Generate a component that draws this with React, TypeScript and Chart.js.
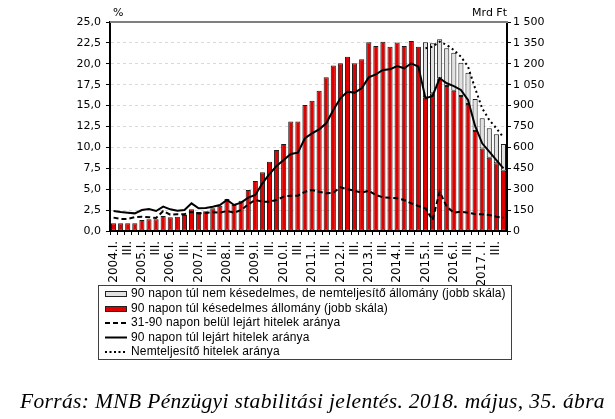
import React, { useEffect, useRef } from "react";
import { Chart, registerables } from "chart.js";

Chart.register(...registerables);

const categories = [
  "2004.I.", "II.", "III.", "IV.",
  "2005.I.", "II.", "III.", "IV.",
  "2006.I.", "II.", "III.", "IV.",
  "2007.I.", "II.", "III.", "IV.",
  "2008.I.", "II.", "III.", "IV.",
  "2009.I.", "II.", "III.", "IV.",
  "2010.I.", "II.", "III.", "IV.",
  "2011.I.", "II.", "III.", "IV.",
  "2012.I.", "II.", "III.", "IV.",
  "2013.I.", "II.", "III.", "IV.",
  "2014.I.", "II.", "III.", "IV.",
  "2015.I.", "II.", "III.", "IV.",
  "2016.I.", "II.", "III.", "IV.",
  "2017. I.", "II.", "III.", "IV.",
];

// 90 napon túl késedelmes állomány (Mrd Ft, jobb skála)
const lateStock = [
  55, 55, 55, 55, 79, 84, 84, 108, 98, 103,
  115, 156, 136, 141, 163, 182, 230, 187, 218, 294,
  359, 421, 497, 581, 624, 785, 785, 904, 935, 1007,
  1103, 1187, 1204, 1251, 1204, 1232, 1354, 1328, 1359, 1323,
  1352, 1328, 1364, 1323, 960, 988, 1096, 1041, 1007, 969,
  912, 718, 593, 526, 486, 433,
];

// 90 napon túl nem késedelmes, de nemteljesítő állomány (Mrd Ft, jobb skála)
const nonLateNpl = [
  null, null, null, null, null, null, null, null, null, null,
  null, null, null, null, null, null, null, null, null, null,
  null, null, null, null, null, null, null, null, null, null,
  null, null, null, null, null, null, null, null, null, null,
  null, null, null, null, 394, 359, 280, 270, 273, 239,
  224, 230, 216, 211, 208, 191,
];

// 31-90 napon belül lejárt hitelek aránya (%)
const ratio31to90 = [
  1.6, 1.45, 1.45, 1.65, 1.7, 1.65, 1.55, 2.4, 1.95, 2.0,
  2.0, 2.3, 2.1, 2.15, 2.25, 2.19, 2.39, 2.19, 2.51, 3.19,
  3.71, 3.51, 3.51, 3.71, 4.11, 4.23, 4.23, 4.7, 4.9, 4.7,
  4.51, 4.58, 5.23, 4.99, 4.82, 4.58, 4.82, 4.31, 4.03, 3.99,
  3.91, 3.71, 3.31, 2.99, 2.71, 1.32, 4.7, 2.91, 2.19, 2.31,
  2.19, 2.03, 2.0, 1.91, 1.71, 1.59,
];

// 90 napon túl lejárt hitelek aránya (%)
const ratioOver90 = [
  2.39, 2.27, 2.19, 2.11, 2.51, 2.63, 2.39, 2.91, 2.59, 2.43,
  2.51, 3.31, 2.71, 2.75, 2.91, 3.11, 3.71, 3.11, 3.39, 3.99,
  4.31, 5.7, 6.82, 7.78, 8.49, 9.21, 9.37, 11.09, 11.68, 12.16,
  12.88, 14.47, 15.87, 16.67, 16.55, 17.07, 18.38, 18.74, 19.26, 19.34,
  19.74, 19.46, 20.06, 19.66, 15.87, 16.15, 18.27, 17.67, 17.34, 16.87,
  15.67, 12.56, 10.49, 9.49, 8.49, 7.5,
];

// Nemteljesítő hitelek aránya (%)
const nplRatio = [
  null, null, null, null, null, null, null, null, null, null,
  null, null, null, null, null, null, null, null, null, null,
  null, null, null, null, null, null, null, null, null, null,
  null, null, null, null, null, null, null, null, null, null,
  null, null, null, null, 21.85, 22.05, 22.65, 22.25, 21.65, 20.85,
  19.66, 17.07, 14.67, 13.28, 12.28, 11.2,
];

const legendLabels = [
  "90 napon túl nem késedelmes, de nemteljesítő állomány (jobb skála)",
  "90 napon túl késedelmes állomány (jobb skála)",
  "31-90 napon belül lejárt hitelek aránya",
  "90 napon túl lejárt hitelek aránya",
  "Nemteljesítő hitelek aránya",
];

const leftUnit = "%";
const rightUnit = "Mrd Ft";
const sourceText = "Forrás: MNB Pénzügyi stabilitási jelentés. 2018. május, 35. ábra";

const leftMax = 25;
const leftStep = 2.5;
const rightMax = 1500;
const rightStep = 150;

const RED = "#E00000";
const GRAY = "#E2E2E2";
const TICK_FONT = { family: "'DejaVu Sans', sans-serif", size: 11 };
const XTICK_FONT = { family: "'DejaVu Sans', sans-serif", size: 12 };

function fmtRight(v: number): string {
  if (v >= 1000) {
    const th = Math.floor(v / 1000);
    const rest = String(v % 1000).padStart(3, "0");
    return th + " " + rest;
  }
  return String(v);
}

const decorPlugin = {
  id: "decor",
  afterDraw(chart: any) {
    const { ctx, chartArea } = chart;
    const { left, right, top } = chartArea;
    ctx.save();
    // top frame line
    ctx.strokeStyle = "#7F7F7F";
    ctx.lineWidth = 2;
    ctx.setLineDash([]);
    ctx.beginPath();
    ctx.moveTo(left, top);
    ctx.lineTo(right + 1, top);
    ctx.stroke();

    // unit labels
    ctx.fillStyle = "#000";
    ctx.font = "11px 'DejaVu Sans', sans-serif";
    ctx.textBaseline = "middle";
    ctx.textAlign = "left";
    ctx.fillText(leftUnit, left + 3, 13);
    ctx.textAlign = "right";
    ctx.fillText(rightUnit, right, 13);

    // legend box
    const bx = 98.5, by = 285.5, bw = 413, bh = 74;
    ctx.strokeStyle = "#404040";
    ctx.lineWidth = 1;
    ctx.strokeRect(bx, by, bw, bh);
    const rows = [294, 308.5, 323, 337.5, 352];
    const sx = 105, sw = 22;
    ctx.font = "12px 'Liberation Sans', Arial, sans-serif";
    try { (ctx as any).letterSpacing = "0.15px"; } catch (e) {}
    ctx.textAlign = "left";
    ctx.textBaseline = "middle";
    rows.forEach((y, i) => {
      ctx.save();
      if (i === 0 || i === 1) {
        ctx.fillStyle = i === 0 ? GRAY : RED;
        ctx.fillRect(sx, Math.round(y) - 3, sw, 6);
        ctx.strokeStyle = "#222";
        ctx.lineWidth = 1;
        ctx.strokeRect(sx + 0.5, Math.round(y) - 2.5, sw - 1, 5);
      } else {
        ctx.strokeStyle = "#000";
        ctx.lineWidth = 2;
        if (i === 2) ctx.setLineDash([5, 3]);
        if (i === 4) ctx.setLineDash([2, 2.5]);
        ctx.beginPath();
        ctx.moveTo(sx, y);
        ctx.lineTo(sx + sw, y);
        ctx.stroke();
      }
      ctx.restore();
      ctx.fillStyle = "#000";
      ctx.fillText(legendLabels[i], 131, y);
    });

    // source text
    ctx.font = "italic 21.5px 'Liberation Serif', 'Times New Roman', serif";
    try { (ctx as any).letterSpacing = "0.35px"; } catch (e) {}
    ctx.textAlign = "left";
    ctx.textBaseline = "alphabetic";
    ctx.fillStyle = "#000";
    ctx.fillText(sourceText, 20, 408);
    try { (ctx as any).letterSpacing = "0px"; } catch (e) {}
    ctx.restore();
  },
};

export default function App() {
  const canvasRef = useRef<HTMLCanvasElement | null>(null);

  useEffect(() => {
    if (!canvasRef.current) return;
    const chart = new Chart(canvasRef.current, {
      type: "bar",
      data: {
        labels: categories,
        datasets: [
          {
            type: "line",
            label: legendLabels[2],
            data: ratio31to90,
            yAxisID: "y",
            borderColor: "#000",
            borderWidth: 2,
            borderDash: [5, 3],
            pointRadius: 0,
            tension: 0,
            fill: false,
            order: 0,
          },
          {
            type: "line",
            label: legendLabels[3],
            data: ratioOver90,
            yAxisID: "y",
            borderColor: "#000",
            borderWidth: 2,
            pointRadius: 0,
            tension: 0,
            fill: false,
            order: 0,
          },
          {
            type: "line",
            label: legendLabels[4],
            data: nplRatio,
            yAxisID: "y",
            borderColor: "#000",
            borderWidth: 2,
            borderDash: [2, 3],
            pointRadius: 0,
            tension: 0,
            fill: false,
            spanGaps: false,
            order: 0,
          },
          {
            type: "bar",
            label: legendLabels[1],
            data: lateStock,
            yAxisID: "y2",
            backgroundColor: RED,
            borderColor: "#1A1A1A",
            borderWidth: 1,
            borderSkipped: false,
            barPercentage: 0.72,
            categoryPercentage: 1,
            order: 1,
          },
          {
            type: "bar",
            label: legendLabels[0],
            data: nonLateNpl,
            yAxisID: "y2",
            backgroundColor: GRAY,
            borderColor: "#1A1A1A",
            borderWidth: 1,
            borderSkipped: false,
            barPercentage: 0.72,
            categoryPercentage: 1,
            order: 1,
          },
        ],
      } as any,
      options: {
        responsive: false,
        animation: false,
        devicePixelRatio: 1,
        layout: { padding: { top: 22, left: 0, right: 0, bottom: 0 } },
        plugins: {
          legend: { display: false },
          tooltip: { enabled: false },
          title: { display: false },
        },
        scales: {
          x: {
            stacked: true,
            offset: true,
            grid: {
              display: true,
              drawOnChartArea: false,
              drawTicks: true,
              tickLength: 4,
              tickColor: "#000",
              tickWidth: 1,
              offset: true,
            },
            border: { display: true, color: "#000", width: 2 },
            ticks: {
              autoSkip: false,
              maxRotation: 90,
              minRotation: 90,
              padding: 6,
              color: "#000",
              font: XTICK_FONT,
              callback: (_v: any, i: number) => (i % 2 === 0 ? categories[i] : ""),
            },
            afterFit: (s: any) => {
              s.height = 188;
            },
          },
          y: {
            position: "left",
            min: 0,
            max: leftMax,
            ticks: {
              stepSize: leftStep,
              padding: 5,
              color: "#000",
              font: TICK_FONT,
              callback: (v: any) => Number(v).toFixed(1).replace(".", ","),
            },
            grid: {
              color: (c: any) =>
                c.tick && (c.tick.value === 0 || c.tick.value === leftMax)
                  ? "rgba(0,0,0,0)"
                  : "#D9D9D9",
              lineWidth: 1,
              tickColor: "#000",
              tickLength: 4,
              tickWidth: 1,
            },
            border: { display: true, color: "#000", width: 2, dash: [3, 3] },
            afterFit: (s: any) => {
              s.width = 110;
            },
          },
          y2: {
            position: "right",
            min: 0,
            max: rightMax,
            stacked: true,
            ticks: {
              stepSize: rightStep,
              padding: 2,
              color: "#000",
              font: TICK_FONT,
              callback: (v: any) => fmtRight(Number(v)),
            },
            grid: {
              drawOnChartArea: false,
              tickColor: "#000",
              tickLength: 4,
              tickWidth: 1,
            },
            border: { display: true, color: "#000", width: 2 },
            afterFit: (s: any) => {
              s.width = 108;
            },
          },
        },
      } as any,
      plugins: [decorPlugin],
    });
    return () => chart.destroy();
  }, []);

  return (
    <div style={{ position: "absolute", left: 0, top: 0, width: 615, height: 419, background: "#fff" }}>
      <canvas ref={canvasRef} width={615} height={419} style={{ width: 615, height: 419, display: "block" }} />
    </div>
  );
}
